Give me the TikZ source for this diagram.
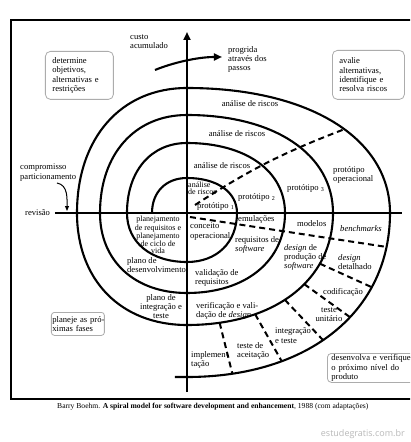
\documentclass[tikz,border=0pt]{standalone}
\usepackage{fontspec}
\setmainfont{Liberation Serif}
\setsansfont{Open Sans}
\usetikzlibrary{arrows.meta}

\begin{document}
\begin{tikzpicture}[x=1pt,y=1pt,>={Triangle[width=7pt,length=8pt]},
  font=\fontsize{8.6}{9.4}\selectfont,
  spiral/.style={line width=2.1pt},
  axis/.style={line width=2.2pt},
  divider/.style={line width=2pt,dash pattern=on 6pt off 4pt},
  txt/.style={inner sep=0pt,align=left},
  tight/.style={font=\fontsize{8}{6.8}\selectfont},
  quadrant/.style={draw=gray!65,rounded corners=5pt,line width=0.8pt,
    inner ysep=0pt,align=left,anchor=north west}]
\pgfmathsetmacro{\bulge}{0.6}

% canvas of the reference, spiral centre at the origin
\useasboundingbox (-187,213) rectangle (223,-229);
\clip (-187,213) rectangle (223,-229);
\fill[white] (-187,213) rectangle (223,-229);
\draw[line width=1.2pt] (-176,193) rectangle (240,-186);

% axes
\coordinate (costtop) at (0,181);
\coordinate (costbottom) at (0,-179);
\coordinate (revleft) at (-132,0);
\coordinate (revright) at (215,0);
\draw[axis] (revleft) -- (revright);
\draw[axis,->] (costbottom) -- (costtop);

% the spiral, one quarter at a time (left, top, right, bottom)
\draw[spiral]
  (-35,0) .. controls (-35,\bulge*35) and (-\bulge*35,35) .. (0,35)
  .. controls (\bulge*50,35) and (50,\bulge*35) .. (50,0)
  .. controls (50,-\bulge*49) and (\bulge*50,-49) .. (0,-49)
  .. controls (-\bulge*60,-49) and (-60,-\bulge*49) .. (-60,0)
  .. controls (-60,\bulge*70) and (-\bulge*60,70) .. (0,70)
  .. controls (\bulge*98,70) and (98,\bulge*70) .. (98,0)
  .. controls (98,-\bulge*80) and (\bulge*98,-80) .. (0,-80)
  .. controls (-\bulge*87,-80) and (-87,-\bulge*80) .. (-87,0)
  .. controls (-87,\bulge*98) and (-\bulge*87,98) .. (0,98)
  .. controls (\bulge*146,98) and (146,\bulge*98) .. (146,0)
  .. controls (146,-\bulge*112) and (\bulge*146,-112) .. (0,-112)
     coordinate[pos=.28] (in1) coordinate[pos=.42] (in2)
     coordinate[pos=.55] (in3) coordinate[pos=.71] (in4)
     coordinate[pos=.87] (in5)
  .. controls (-\bulge*110,-112) and (-110,-\bulge*112) .. (-110,0)
  .. controls (-110,\bulge*125) and (-\bulge*110,125) .. (0,125)
  .. controls (\bulge*203,125) and (203,\bulge*125) .. (203,0)
     coordinate[pos=.55] (riskend)
  .. controls (203,-\bulge*164) and (\bulge*203,-164) .. (0,-164)
     coordinate[pos=.12] (devend)
     coordinate[pos=.28] (out1) coordinate[pos=.42] (out2)
     coordinate[pos=.55] (out3) coordinate[pos=.71] (out4)
     coordinate[pos=.87] (out5)
  -- (-12,-164);

% last turn: progress through the steps
\coordinate (stepstart) at (-32,143);
\coordinate (steptip) at (35,156);
\draw[spiral,->] (stepstart) .. controls (-15,150) and (10,156) .. (steptip);

% dashed dividers
\coordinate (riskstart) at (8,8);
\coordinate (devstart) at (3,-4);
\draw[divider] (riskstart) to[bend left=6] (riskend);
\draw[divider] (devstart) -- (devend);
\foreach \i in {1,...,5}
  \draw[divider] (in\i) -- (out\i);

% quadrant boxes
\node[quadrant,text width=54pt,minimum height=48pt,inner xsep=7pt]
  (objetivos) at (-142,162) {determine\\objetivos,\\alternativas e\\restrições};
\node[quadrant,text width=58pt,minimum height=49pt,inner xsep=7pt]
  (riscos) at (145,163) {avalie\\alternativas,\\identifique e\\resolva riscos};
\node[quadrant,text width=51pt,minimum height=23pt,inner xsep=1pt,rounded corners=3pt]
  (planeje) at (-136,-99) {\mbox{planeje as pró-}\\ximas fases};
\node[quadrant,text width=82pt,minimum height=29pt,inner xsep=4pt,rounded corners=4pt]
  (desenvolva) at (140,-140) {desenvolva e verifique\\o próximo nível do\\produto};

% axis labels
\node[txt,anchor=north west] (custo) at (-57,179) {custo\\acumulado};
\node[txt,anchor=north west] (progrida) at (41,167) {progrida\\através dos\\passos};
\node[txt,anchor=north west] (compromisso) at (-167,49) {compromisso\\particionamento};
\node[txt,anchor=west] (revisao) at (-162,0) {revisão};
\coordinate (cpstart) at (-130,30);
\coordinate (cptip) at (-120,2);
\draw[line width=1pt,-{Triangle[width=4pt,length=5pt]}]
  (cpstart) to[out=-10,in=90] (cptip);

% risk analysis and prototypes
\node[txt] (risco4) at (63,109) {análise de riscos};
\node[txt] (risco3) at (50,79) {análise de riscos};
\node[txt] (risco2) at (35,47) {análise de riscos};
\node[txt,tight,anchor=north west] (risco1) at (1,31) {análise\\de riscos};
\node[txt,anchor=west] (proto1) at (10,7) {protótipo \textsubscript{1}};
\node[txt,anchor=west] (proto2) at (51,16) {protótipo \textsubscript{2}};
\node[txt,anchor=west] (proto3) at (100,25) {protótipo \textsubscript{3}};
\node[txt,anchor=north west] (protoop) at (146,47) {protótipo\\operacional};

% development
\node[txt,anchor=west] (emulacoes) at (51,-6) {emulações};
\node[txt,anchor=west] (modelos) at (110,-11) {modelos};
\node[txt,anchor=west] (benchmarks) at (153,-16) {\textit{benchmarks}};
\node[txt,anchor=north west] (conceito) at (3,-10) {conceito\\operacional};
\node[txt,anchor=north west] (reqsw) at (48,-23) {requisitos de\\\textit{software}};
\node[txt,anchor=north west] (designprod) at (97,-31)
  {\textit{design} de\\produção de\\\textit{software}};
\node[txt,anchor=north west] (designdet) at (151,-41) {\textit{design}\\detalhado};
\node[txt] (codificacao) at (156,-79) {codificação};
\node[txt,anchor=north,align=center] (unitario) at (142,-94) {teste\\unitário};
\node[txt,anchor=north west] (integracao) at (88,-115) {integração\\e teste};
\node[txt,anchor=north west] (aceitacao) at (50,-129) {teste de\\aceitação};
\node[txt,anchor=north west] (implementacao) at (4,-138) {implemen-\\tação};
\node[txt,anchor=north west] (verificacao) at (9,-89)
  {verificação e vali-\\dação de \textit{design}};
\node[txt,anchor=north west] (validacao) at (8,-56) {validação de\\requisitos};

% planning
\node[txt,tight,anchor=north,align=center] (planreq) at (-29,-3)
  {planejamento\\de requisitos e\\planejamento\\de ciclo de\\vida};
\node[txt,anchor=north west] (planodes) at (-60,-44) {plano de\\desenvolvimento};
\node[txt,anchor=north,align=center] (planoint) at (-26,-81)
  {plano de\\integração e\\teste};

% source and watermark
\node[txt,anchor=base west,font=\fontsize{7.6}{9}\selectfont] (fonte) at (-130,-195)
  {Barry Boehm. \textbf{A spiral model for software development and enhancement}, 1988 (com adaptações)};
\node[txt,anchor=base east,font=\sffamily\fontsize{9}{10}\selectfont,text=gray!55]
  (marca) at (218,-223) {estudegratis.com.br};
\end{tikzpicture}
\end{document}
